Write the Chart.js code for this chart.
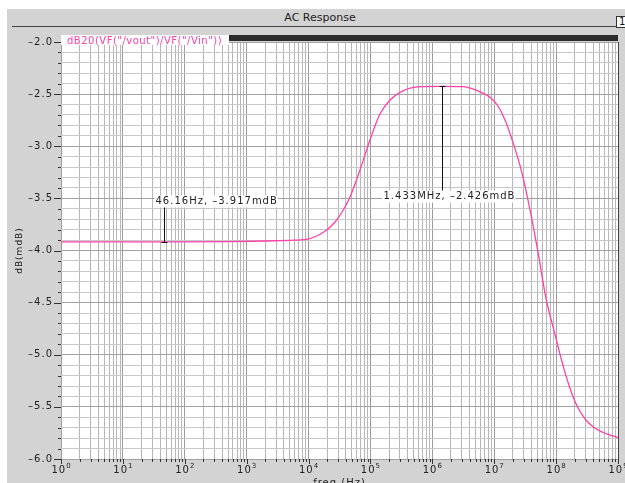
<!DOCTYPE html>
<html>
<head>
<meta charset="utf-8">
<script src="https://cdn.jsdelivr.net/npm/chart.js@4/dist/chart.umd.min.js"></script>
<style>
  html, body { margin: 0; padding: 0; background: #fff; width: 625px; height: 483px; overflow: hidden; }
  #panel { position: absolute; left: 7px; top: 9px; width: 618px; height: 474px; background: #d3d3d3; }
  #head { position: absolute; left: 0; top: 11px; width: 640px; text-align: center;
          font: 11px "DejaVu Sans", sans-serif; color: #222; }
  #rule { position: absolute; left: 12px; top: 26px; width: 604px; border-top: 1px solid #444; }
  #tag { position: absolute; left: 616px; top: 16px; width: 12px; height: 10px; background: #fff;
         border: 1px solid #333; font: 10px "DejaVu Sans", sans-serif; line-height: 10px;
         padding-left: 2px; color: #111; }
  canvas { position: absolute; left: 0; top: 0; }
</style>
</head>
<body>
<div id="panel"></div>
<div id="head">AC Response</div>
<div id="rule"></div>
<div id="tag">1</div>
<canvas id="c" width="625" height="500"></canvas>
<script>
// Trace: dB20(VF("/vout")/VF("/Vin")), in mdB against frequency
const traceName = 'dB20(VF("/vout")/VF("/Vin"))';
const freqHz = [1, 46.16, 500, 2000, 5000, 9300, 13500, 19600, 27000, 34000,
  47000, 67700, 98200, 142600, 207000, 339000, 631000, 1433000, 3160000, 6610000,
  8.87e6, 1.151e7, 1.493e7, 2.01e7, 2.81e7, 3.79e7, 5.1e7, 6.87e7, 9.25e7, 1.245e8,
  1.675e8, 2.26e8, 3.04e8, 4.09e8, 5.52e8, 7.43e8, 1e9];
const gainMdB = [-3.918, -3.917, -3.915, -3.909, -3.902, -3.893, -3.861, -3.803, -3.724, -3.640,
  -3.484, -3.228, -2.940, -2.691, -2.556, -2.467, -2.429, -2.426, -2.429, -2.492,
  -2.537, -2.614, -2.748, -2.963, -3.257, -3.610, -4.016, -4.461, -4.768, -5.068,
  -5.321, -5.511, -5.626, -5.698, -5.741, -5.770, -5.794];

// Point markers placed on the trace
const markerFreqHz = [46.16, 1433000];
const markerMdB = [-3.917, -2.426];

// Axis ticks
const xDecades = [0, 1, 2, 3, 4, 5, 6, 7, 8, 9];
const xMinorMult = [2, 3, 4, 5, 6, 7, 8, 9];
const yMin = -6, yMax = -2, yStep = 0.1;

const FONT = '"DejaVu Sans", sans-serif';
const TRACE = '#ff40a6';

const xTickValues = [];
xDecades.forEach(d => {
  xTickValues.push(Math.pow(10, d));
  if (d < xDecades[xDecades.length - 1]) xMinorMult.forEach(m => xTickValues.push(m * Math.pow(10, d)));
});
const yTickValues = [];
for (let i = 0; i <= Math.round((yMax - yMin) / yStep); i++) yTickValues.push(Math.round((yMin + i * yStep) * 10) / 10);

const isDecade = v => Math.abs(Math.log10(v) - Math.round(Math.log10(v))) < 1e-9;
const isHalf = v => Math.abs(v * 2 - Math.round(v * 2)) < 1e-9;
const minus = s => s.replace('-', '\u2013');

function fmtFreq(f) {
  if (f >= 1e6) return (f / 1e6).toFixed(3) + 'MHz';
  if (f >= 1e3) return (f / 1e3).toFixed(3) + 'KHz';
  return f.toFixed(2) + 'Hz';
}

// label placement for each marker (px offsets from the marked point)
const markerStyle = [
  { lineTo: -37, dx: -9, dy: -41 },
  { lineTo: 105, dx: -59, dy: 110 }
];

const decor = {
  id: 'decor',
  beforeDraw(chart) {
    const { ctx, chartArea: a } = chart;
    ctx.letterSpacing = '1px';
    ctx.save();
    ctx.fillStyle = '#fff';
    ctx.fillRect(a.left, a.top, a.right - a.left, a.bottom - a.top);
    ctx.restore();
  },
  afterDraw(chart) {
    const { ctx, chartArea: a } = chart;
    const xs = chart.scales.x, ys = chart.scales.y;
    ctx.save();

    // outer tick marks
    ctx.strokeStyle = '#333';
    ctx.lineWidth = 1;
    ctx.beginPath();
    xTickValues.forEach(v => {
      const px = Math.round(xs.getPixelForValue(v)) + 0.5;
      ctx.moveTo(px, a.bottom);
      ctx.lineTo(px, a.bottom + (isDecade(v) ? 5 : 3));
    });
    yTickValues.forEach(v => {
      const py = Math.round(ys.getPixelForValue(v)) + 0.5;
      ctx.moveTo(a.left - (isHalf(v) ? 7 : 3), py);
      ctx.lineTo(a.left, py);
    });
    ctx.stroke();

    // decade labels with raised exponent
    ctx.fillStyle = '#222';
    ctx.textBaseline = 'alphabetic';
    ctx.textAlign = 'left';
    xDecades.forEach(d => {
      const px = xs.getPixelForValue(Math.pow(10, d));
      ctx.font = '10px ' + FONT;
      ctx.letterSpacing = '1px';
      const w1 = ctx.measureText('10').width;
      ctx.font = '7px ' + FONT;
      ctx.letterSpacing = '0px';
      const e = String(d);
      const w2 = ctx.measureText(e).width;
      const x0 = px - (w1 + w2) / 2;
      ctx.font = '10px ' + FONT;
      ctx.letterSpacing = '1px';
      ctx.fillText('10', x0, a.bottom + 14);
      ctx.font = '7px ' + FONT;
      ctx.letterSpacing = '0px';
      ctx.fillText(e, x0 + w1, a.bottom + 9);
    });

    // trace legend strip
    ctx.fillStyle = '#2b2b2b';
    ctx.fillRect(229, a.top - 7, a.right - 229, 6);
    ctx.fillStyle = '#fff';
    ctx.fillRect(a.left, a.top - 7, 229 - a.left, 10);
    ctx.fillStyle = TRACE;
    ctx.font = '10px ' + FONT;
    ctx.letterSpacing = '0.5px';
    ctx.fillText(chart.data.datasets[0].label, a.left + 6, a.top + 2);

    // markers
    ctx.letterSpacing = '1px';
    ctx.font = '10px ' + FONT;
    markerFreqHz.forEach((f, i) => {
      const v = markerMdB[i];
      const st = markerStyle[i];
      const px = Math.round(xs.getPixelForValue(f)) + 0.5;
      const py = Math.round(ys.getPixelForValue(v)) + 0.5;
      ctx.strokeStyle = '#111';
      ctx.beginPath();
      ctx.moveTo(px, py);
      ctx.lineTo(px, py + st.lineTo);
      ctx.moveTo(px - 3, py);
      ctx.lineTo(px + 3, py);
      ctx.stroke();
      const txt = fmtFreq(f) + ', ' + minus(v.toFixed(3)) + 'mdB';
      const w = ctx.measureText(txt).width;
      const tx = px + st.dx, ty = py + st.dy;
      ctx.fillStyle = '#fff';
      ctx.fillRect(tx - 1, ty - 6, w + 1, 12);
      ctx.fillStyle = '#222';
      ctx.textBaseline = 'middle';
      ctx.fillText(txt, tx, ty);
      ctx.textBaseline = 'alphabetic';
    });
    ctx.restore();
  }
};

new Chart(document.getElementById('c'), {
  type: 'line',
  data: {
    datasets: [{
      label: traceName,
      data: freqHz.map((f, i) => ({ x: f, y: gainMdB[i] })),
      borderColor: TRACE,
      borderWidth: 1.3,
      pointRadius: 0,
      cubicInterpolationMode: 'monotone',
      fill: false
    }]
  },
  options: {
    responsive: false,
    animation: false,
    devicePixelRatio: 1,
    layout: { padding: { top: 42, right: 7, left: 0, bottom: 0 } },
    plugins: { legend: { display: false }, tooltip: { enabled: false } },
    scales: {
      x: {
        type: 'logarithmic',
        min: 1, max: 1e9,
        afterBuildTicks: s => { s.ticks = xTickValues.map(v => ({ value: v, major: isDecade(v) })); },
        afterFit: s => { s.height = 41; },
        border: { display: false },
        grid: {
          drawTicks: false,
          lineWidth: 1,
          color: c => {
            const v = c.tick ? c.tick.value : 0;
            if (v >= 1e9) return '#444';
            return isDecade(v) ? '#9c9c9c' : '#b6b6b6';
          }
        },
        ticks: { display: false, autoSkip: false },
        title: {
          display: true, text: 'freq (Hz)', color: '#222',
          font: { family: FONT, size: 10 }, padding: { top: 0, bottom: 11 }
        }
      },
      y: {
        min: yMin, max: yMax,
        afterBuildTicks: s => { s.ticks = yTickValues.map(v => ({ value: v })); },
        afterFit: s => { s.width = 61; },
        border: { display: false },
        grid: {
          drawTicks: false,
          lineWidth: 1,
          color: c => (c.tick && isHalf(c.tick.value)) ? '#a2a2a2' : '#c8c8c8'
        },
        ticks: {
          autoSkip: false, padding: 8, color: '#222',
          font: { family: FONT, size: 10 },
          callback: v => isHalf(v) ? minus(Number(v).toFixed(1)) : ''
        },
        title: {
          display: true, text: 'dB(mdB)', color: '#222',
          font: { family: FONT, size: 9 }, padding: { top: 14.6, bottom: 0 }
        }
      }
    }
  },
  plugins: [decor]
});
</script>
</body>
</html>
